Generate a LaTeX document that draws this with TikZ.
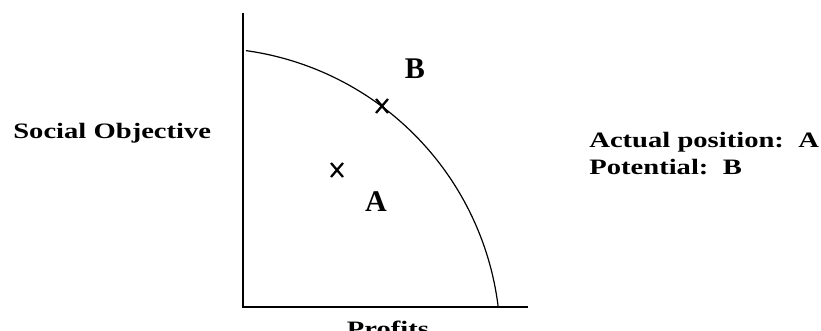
\documentclass[tikz,border=0pt]{standalone}
\usepackage{fontspec}
\setmainfont{Liberation Serif}
\usetikzlibrary{calc}
\begin{document}
\begin{tikzpicture}[x=0.75pt,y=-0.75pt,
  sidetext/.style={font=\fontsize{16.5}{20}\selectfont\bfseries, inner sep=0pt, xscale=1.3},
  ptlabel/.style={font=\fontsize{22.5}{26}\selectfont\bfseries, inner sep=0pt},
  axis/.style={line width=1.5pt},
  frontier/.style={line width=0.9pt},
  crossmark/.style={line width=1.7pt}]
\useasboundingbox (0,0) rectangle (821,331);
\coordinate (top) at (243,13);
\coordinate (origin) at (243,307);
\coordinate (right) at (528,307);
\draw[axis] (top) -- (origin) -- (right);
\draw[frontier] plot[domain=6.97:82.1, samples=90] ({205.4+295*cos(\x)}, {342.8-295*sin(\x)});
\coordinate (xb) at (382,106);
\coordinate (xa) at (337,170);
\foreach \c in {xa,xb}{
  \draw[crossmark] ($(\c)+(-6,-7)$) -- ($(\c)+(6,7)$);
  \draw[crossmark] ($(\c)+(-6,7)$) -- ($(\c)+(6,-7)$);
}
\node[ptlabel, anchor=base] (labB) at (415,79) {B};
\node[ptlabel, anchor=base] (labA) at (376,212) {A};
\node[sidetext, anchor=base west] (social) at (13,139) {Social Objective};
\node[sidetext, anchor=base west] (actual) at (589,147.5) {Actual position:\ \ A};
\node[sidetext, anchor=base west] (potential) at (589,175) {Potential:\ \ B};
\node[sidetext, anchor=base] (profits) at (388,336) {Profits};
\end{tikzpicture}
\end{document}
